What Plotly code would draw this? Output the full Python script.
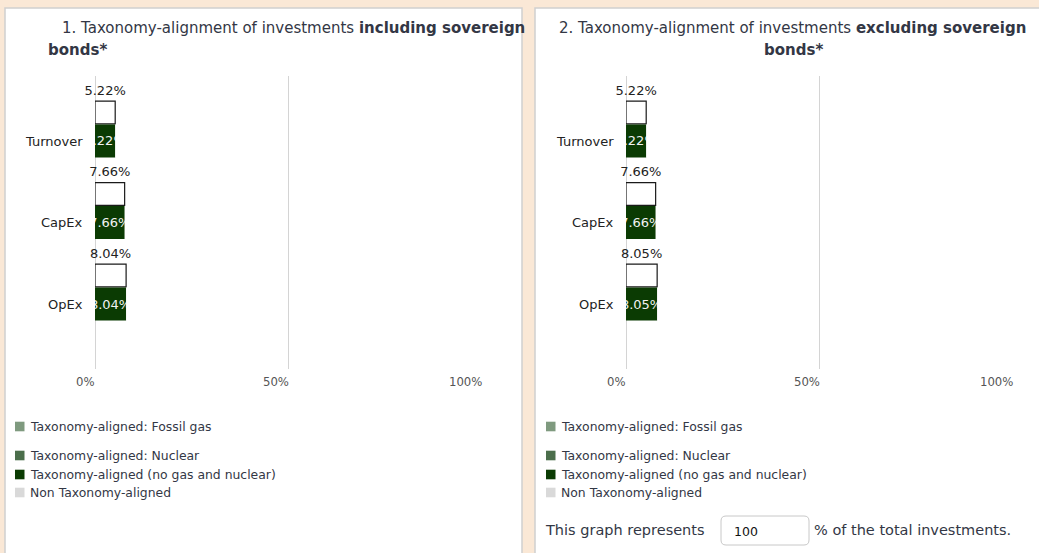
import plotly.graph_objects as go

W, H = 1039, 553
def X(px): return px / W
def Y(py): return 1 - py / H

categories = ["Turnover", "CapEx", "OpEx"]
incl_values = [5.22, 7.66, 8.04]
excl_values = [5.22, 7.66, 8.05]
x_ticks = [0, 50, 100]
x_tick_labels = ["0%", "50%", "100%"]
legend_labels = ["Taxonomy-aligned: Fossil gas", "Taxonomy-aligned: Nuclear",
                 "Taxonomy-aligned (no gas and nuclear)", "Non Taxonomy-aligned"]
legend_colors = ["#7f9a7f", "#4b6e4b", "#0b3b03", "#d9d9d9"]
panel_titles = [("1. Taxonomy-alignment of investments <b>including sovereign</b>", "<b>bonds*</b>"),
                ("2. Taxonomy-alignment of investments <b>excluding sovereign</b>", "<b>bonds*</b>")]
share_text = ["This graph represents", "100", "% of the total investments."]

GREEN = "#0b3b03"
FONT = "DejaVu Sans"
TXT = "#333745"
PAD = 3
pos = list(range(len(categories)))

fig = go.Figure()
shapes = []
annotations = []

# panels
for x0, x1 in [(5, 522), (535, 1050)]:
    shapes.append(dict(type="rect", xref="paper", yref="paper", x0=X(x0), x1=X(x1), y0=Y(600), y1=Y(8),
                       fillcolor="white", line=dict(color="#d0d0d0", width=1.5), layer="below"))

panels = [(incl_values, "x", "y", 0), (excl_values, "x2", "y2", 531)]
for k, (vals, xa, ya, dx) in enumerate(panels):
    # outlined white bar
    fig.add_trace(go.Bar(x=vals, y=pos, orientation="h", xaxis=xa, yaxis=ya,
                         offset=-0.49, width=0.28, marker=dict(color="white", line=dict(color="#1a1a1a", width=1.2)),
                         showlegend=False, hoverinfo="skip"))
    # green bar with inside text
    fig.add_trace(go.Bar(x=vals, y=pos, orientation="h", xaxis=xa, yaxis=ya,
                         offset=-0.2025, width=0.405, marker=dict(color=GREEN, line=dict(width=0)),
                         text=[f"{v:.2f}%" for v in vals], textposition="inside", insidetextanchor="middle",
                         constraintext="none", textangle=0,
                         insidetextfont=dict(family=FONT, size=13, color="#f2f2f2"),
                         showlegend=False, hoverinfo="skip"))
    # labels above
    fig.add_trace(go.Scatter(x=[v / 2 for v in vals], y=[p - 0.61 for p in pos], mode="text",
                             xaxis=xa, yaxis=ya, text=[f"{v:.2f}%" for v in vals], cliponaxis=False,
                             textfont=dict(family=FONT, size=13, color="#222222"),
                             showlegend=False, hoverinfo="skip"))
    axn = "" if k == 0 else "2"
    # cover overflow of inside text
    for p, v in zip(pos, vals):
        shapes.append(dict(type="rect", xref="paper", yref="y" + axn, x0=X(83 + dx), x1=X(94.5 + dx),
                           y0=p - 0.2025, y1=p + 0.2025, fillcolor="white", line=dict(width=0), layer="above"))
        shapes.append(dict(type="rect", xref="x" + axn, yref="y" + axn, x0=v + 0.05, x1=v + 5,
                           y0=p - 0.2025, y1=p + 0.2025, fillcolor="white", line=dict(width=0), layer="above"))
    # category labels
    for p, c in zip(pos, categories):
        annotations.append(dict(xref="x" + axn + " domain", x=0, xshift=-13 + PAD, xanchor="right",
                                yref="y" + axn, y=p, yanchor="middle", text=c, showarrow=False,
                                font=dict(family=FONT, size=13, color="#222222")))
    # x tick labels
    for t, lab in zip(x_ticks, x_tick_labels):
        annotations.append(dict(xref="x" + axn, x=t, xshift=-1 + PAD, xanchor="right", yref="paper", y=Y(382),
                                yanchor="middle", text=lab, showarrow=False,
                                font=dict(family=FONT, size=11.7, color="#555555")))
    # legend
    for i, (lab, col) in enumerate(zip(legend_labels, legend_colors)):
        cy = [426.5, 455.5, 474.5, 492.5][i]
        shapes.append(dict(type="rect", xref="paper", yref="paper", x0=X(15 + dx), x1=X(24.5 + dx),
                           y0=Y(cy + 4.8), y1=Y(cy - 4.8), fillcolor=col, line=dict(width=0)))
        annotations.append(dict(xref="paper", x=X(31 + dx), xshift=-PAD, xanchor="left", yref="paper", y=Y(cy),
                                yanchor="middle", text=lab, showarrow=False,
                                font=dict(family=FONT, size=12.4, color=TXT)))

# titles
t1, t2 = panel_titles
annotations.append(dict(xref="paper", x=X(63), xshift=-PAD, xanchor="left", yref="paper", y=Y(28), yanchor="middle",
                        text=t1[0], showarrow=False, font=dict(family=FONT, size=15, color=TXT)))
annotations.append(dict(xref="paper", x=X(49), xshift=-PAD, xanchor="left", yref="paper", y=Y(50), yanchor="middle",
                        text=t1[1], showarrow=False, font=dict(family=FONT, size=15, color=TXT)))
annotations.append(dict(xref="paper", x=X(560), xshift=-PAD, xanchor="left", yref="paper", y=Y(28), yanchor="middle",
                        text=t2[0], showarrow=False, font=dict(family=FONT, size=15, color=TXT)))
annotations.append(dict(xref="paper", x=X(793), xanchor="center", yref="paper", y=Y(50), yanchor="middle",
                        text=t2[1], showarrow=False, font=dict(family=FONT, size=15, color=TXT)))

# bottom sentence with input box
bx0, bx1, by0, by1, r = 721, 809, 516, 545, 5
path = (f"M {X(bx0 + r)},{Y(by0)} L {X(bx1 - r)},{Y(by0)} Q {X(bx1)},{Y(by0)} {X(bx1)},{Y(by0 + r)} "
        f"L {X(bx1)},{Y(by1 - r)} Q {X(bx1)},{Y(by1)} {X(bx1 - r)},{Y(by1)} "
        f"L {X(bx0 + r)},{Y(by1)} Q {X(bx0)},{Y(by1)} {X(bx0)},{Y(by1 - r)} "
        f"L {X(bx0)},{Y(by0 + r)} Q {X(bx0)},{Y(by0)} {X(bx0 + r)},{Y(by0)} Z")
shapes.append(dict(type="path", xref="paper", yref="paper", path=path, fillcolor="white",
                   line=dict(color="#c8c8c8", width=1)))
annotations.append(dict(xref="paper", x=X(546), xshift=-PAD, xanchor="left", yref="paper", y=Y(530), yanchor="middle",
                        text=share_text[0], showarrow=False, font=dict(family=FONT, size=14.5, color=TXT)))
annotations.append(dict(xref="paper", x=X(735), xshift=-PAD, xanchor="left", yref="paper", y=Y(531), yanchor="middle",
                        text=share_text[1], showarrow=False, font=dict(family=FONT, size=12.5, color="#111111")))
annotations.append(dict(xref="paper", x=X(815), xshift=-PAD, xanchor="left", yref="paper", y=Y(530), yanchor="middle",
                        text=share_text[2], showarrow=False, font=dict(family=FONT, size=14.5, color=TXT)))

xax = dict(range=[0, 100], tickvals=x_ticks, showticklabels=False, showgrid=True, gridcolor="#d4d4d4",
           gridwidth=1, zeroline=True, zerolinecolor="#d4d4d4", zerolinewidth=1, showline=False, fixedrange=True)
yax = dict(range=[2.7975, -0.7975], showticklabels=False, showgrid=False, zeroline=False, showline=False,
           domain=[Y(369), Y(76)], fixedrange=True)

fig.update_layout(
    width=W, height=H, margin=dict(l=0, r=0, t=0, b=0),
    paper_bgcolor="#fae8d6", plot_bgcolor="rgba(0,0,0,0)",
    barmode="overlay", showlegend=False,
    xaxis=dict(xax, domain=[X(95), X(482)]),
    xaxis2=dict(xax, domain=[X(626), X(1013)]),
    yaxis=dict(yax, anchor="x"),
    yaxis2=dict(yax, anchor="x2"),
    xaxis_anchor="y", xaxis2_anchor="y2",
    shapes=shapes, annotations=annotations,
    font=dict(family=FONT),
)

fig.write_html("out.html", config=dict(displayModeBar=False),
               post_script="document.body.style.margin='0';document.body.style.overflow='hidden';")
